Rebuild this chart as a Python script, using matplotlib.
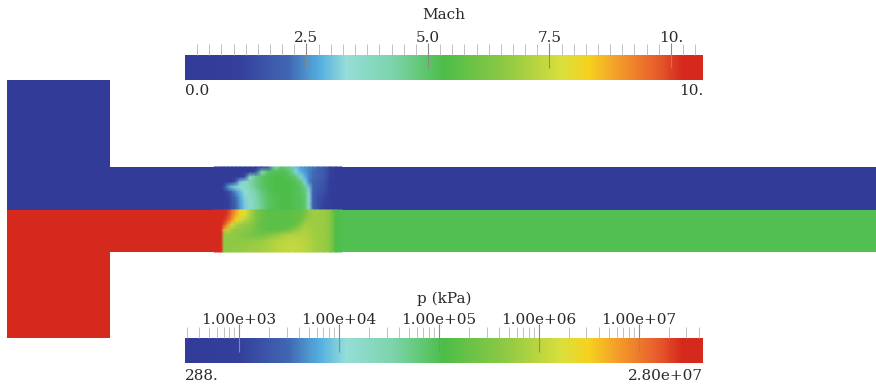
import numpy as np
import matplotlib
matplotlib.use('Agg')
import matplotlib.pyplot as plt
from matplotlib.colors import LinearSegmentedColormap, Normalize, LogNorm
from matplotlib.patches import Rectangle
import matplotlib.cm as cm

plt.rcParams['font.family'] = ['DejaVu Serif']
plt.rcParams['font.size'] = 11
txt_color = '#2a2a2a'

# colour map (rainbow as in the picture)
cmap_pos = [0.0, 0.1, 0.2, 0.26, 0.31, 0.4, 0.5, 0.62, 0.73, 0.78, 0.84, 0.91, 0.96, 1.0]
cmap_cols = ['#323b98', '#343e9b', '#4167b3', '#55b0e0', '#95ddd7', '#7cd4ac',
             '#4cbd48', '#90c944', '#dbdf3c', '#f5d21e', '#f29a2a', '#e8602c', '#d6291e', '#d6291e']
cmap = LinearSegmentedColormap.from_list('pv_rainbow', list(zip(cmap_pos, cmap_cols)))

# scalar ranges of the two bars
mach_min, mach_max = 0.0, 10.66
p_min, p_max = 288.0, 4.4e7
mach_ticks = [2.5, 5.0, 7.5, 10.0]
mach_tick_labels = ['2.5', '5.0', '7.5', '10.']
p_ticks = [1e3, 1e4, 1e5, 1e6, 1e7]
p_tick_labels = ['1.00e+03', '1.00e+04', '1.00e+05', '1.00e+06', '1.00e+07']

# uniform states
mach_still = 0.0       # upper half, driver block + quiescent channel
p_driver = 2.8e7       # lower half, driver block
p_ahead = 1.0e5        # lower half, channel ahead of the blast

# blast region samples
blast_x = [214, 221, 224, 228, 232, 236, 240, 245, 250, 256, 262, 268, 275,
           282, 289, 296, 301, 305, 309, 313, 318, 324, 330, 336, 342]
mach_y = [167, 172, 177, 182, 187, 192, 198, 204, 210]
mach_vals = [
    [0, 0, 0, 0, 0, 0, 0, 0, 0, 0, 0.3, 1.5, 4.2, 5.0, 4.6, 3.0, 2.6, 2.5, 2.4, 2.3, 2.1, 1.8, 1.2, 0.4, 0],
    [0, 0, 0, 0, 0, 0, 0, 0, 0.2, 1.5, 4.0, 5.0, 5.2, 5.2, 5.0, 3.2, 2.8, 2.6, 2.4, 2.2, 2.0, 1.8, 1.2, 0.4, 0],
    [0, 0, 0, 0, 0, 0, 0.3, 1.5, 3.6, 4.6, 5.0, 5.2, 5.3, 5.3, 5.2, 4.8, 3.2, 2.8, 2.4, 2.2, 2.0, 1.8, 1.2, 0.4, 0],
    [0, 0, 0, 0, 0.5, 2.0, 3.0, 3.6, 4.2, 4.7, 5.0, 5.2, 5.3, 5.3, 5.3, 5.1, 4.8, 3.2, 2.4, 2.0, 1.9, 1.7, 1.1, 0.3, 0],
    [0, 0, 1.5, 2.6, 3.0, 3.2, 3.4, 3.7, 4.1, 4.6, 5.0, 5.2, 5.3, 5.3, 5.3, 5.2, 5.0, 4.6, 3.0, 2.0, 1.8, 1.6, 1.0, 0.3, 0],
    [0, 0, 0.8, 1.4, 2.0, 2.5, 2.9, 3.3, 3.8, 4.3, 4.8, 5.1, 5.3, 5.3, 5.3, 5.2, 5.0, 4.8, 3.2, 2.0, 1.7, 1.5, 0.9, 0.2, 0],
    [0, 0, 0.6, 1.1, 1.7, 2.2, 2.7, 3.2, 3.7, 4.2, 4.7, 5.0, 5.2, 5.3, 5.3, 5.2, 5.1, 4.9, 3.5, 2.0, 1.6, 1.3, 0.8, 0.2, 0],
    [0, 0, 0.6, 1.0, 1.6, 2.1, 2.6, 3.1, 3.6, 4.1, 4.6, 5.0, 5.2, 5.3, 5.3, 5.2, 5.1, 4.9, 3.6, 2.0, 1.5, 1.2, 0.7, 0.2, 0],
    [0, 0, 0.7, 1.1, 1.6, 2.1, 2.6, 3.1, 3.6, 4.1, 4.6, 5.0, 5.2, 5.3, 5.3, 5.2, 5.1, 4.9, 3.6, 2.0, 1.5, 1.1, 0.6, 0.1, 0],
]
p_y = [210, 215, 220, 225, 230, 235, 241, 246, 252]
p_vals = [
    [2.8e7, 2.8e7, 2.8e7, 2.2e7, 1.2e7, 6e6, 3e6, 1.8e6, 8e5, 3e5, 2e5, 1.6e5, 1.5e5, 1.5e5, 1.6e5, 1.8e5, 2e5, 2.5e5, 5e5, 6e5, 6e5, 5.5e5, 4e5, 1.2e5, 1e5],
    [2.8e7, 2.8e7, 2.7e7, 2e7, 1e7, 5e6, 2.8e6, 1.8e6, 8e5, 3e5, 2e5, 1.6e5, 1.5e5, 1.5e5, 1.6e5, 1.8e5, 2e5, 2.8e5, 5e5, 6e5, 6e5, 5.5e5, 4e5, 1.2e5, 1e5],
    [2.8e7, 2.8e7, 2.5e7, 1.6e7, 7e6, 3e6, 1.5e6, 1e6, 6e5, 3e5, 2e5, 1.6e5, 1.5e5, 1.5e5, 1.6e5, 1.8e5, 2.2e5, 4e5, 6e5, 6e5, 6e5, 5.5e5, 4e5, 1.2e5, 1e5],
    [2.8e7, 2.8e7, 1.8e7, 6e6, 1.5e6, 8e5, 6e5, 5e5, 4e5, 2.5e5, 1.8e5, 1.6e5, 1.5e5, 1.5e5, 1.7e5, 2e5, 4e5, 6.5e5, 6.5e5, 6e5, 6e5, 5.5e5, 4e5, 1.2e5, 1e5],
    [2.8e7, 2.8e7, 5e6, 1e6, 6e5, 5e5, 4.5e5, 4e5, 3.5e5, 2.5e5, 1.8e5, 1.6e5, 1.6e5, 1.8e5, 2.5e5, 5e5, 7e5, 7.5e5, 7e5, 6.5e5, 6e5, 5.5e5, 4e5, 1.2e5, 1e5],
    [2.8e7, 2.8e7, 5e5, 5e5, 4.5e5, 4.5e5, 4e5, 3.5e5, 3e5, 2.5e5, 2.5e5, 3e5, 4.5e5, 6.5e5, 8e5, 8.5e5, 8.5e5, 8e5, 7.5e5, 6.5e5, 6e5, 5.5e5, 4e5, 1.2e5, 1e5],
    [2.8e7, 2.8e7, 4.5e5, 4.5e5, 4.5e5, 4.5e5, 4.5e5, 4.5e5, 4.5e5, 5e5, 5.5e5, 7e5, 8.5e5, 1e6, 1.1e6, 1.1e6, 1.05e6, 9.5e5, 8.5e5, 7e5, 6e5, 5.5e5, 4e5, 1.2e5, 1e5],
    [2.8e7, 2.8e7, 4.5e5, 4.5e5, 4.5e5, 5e5, 5e5, 5e5, 5.5e5, 6e5, 6.5e5, 7.5e5, 9e5, 1.05e6, 1.15e6, 1.15e6, 1.1e6, 1e6, 8.5e5, 7e5, 6e5, 5.5e5, 4e5, 1.2e5, 1e5],
    [2.8e7, 2.8e7, 4.5e5, 4.5e5, 5e5, 5e5, 5e5, 5.5e5, 6e5, 6.5e5, 7e5, 8e5, 9e5, 1.05e6, 1.15e6, 1.15e6, 1.1e6, 1e6, 8.5e5, 7e5, 6e5, 5.5e5, 4e5, 1.2e5, 1e5],
]

# geometry (pixel frame of the picture)
W, H = 876, 388
block = (7, 80, 110, 338)       # x0, y0, x1, y1
chan = (110, 167, 876, 252)
mid_y = 210

mnorm = Normalize(mach_min, mach_max)
pnorm = LogNorm(p_min, p_max)

fig = plt.figure(figsize=(W / 100, H / 100), dpi=100)
ax = fig.add_axes([0, 0, 1, 1])
ax.set_xlim(0, W)
ax.set_ylim(H, 0)
ax.axis('off')

c_still = cmap(mnorm(mach_still))
c_driver = cmap(pnorm(p_driver))
c_ahead = cmap(pnorm(p_ahead))
# upper half: Mach
ax.add_patch(Rectangle((block[0], block[1]), block[2] - block[0], mid_y - block[1], color=c_still, lw=0))
ax.add_patch(Rectangle((block[2] - 1, chan[1]), chan[2] - block[2] + 1, mid_y - chan[1], color=c_still, lw=0))
# lower half: pressure
ax.add_patch(Rectangle((block[0], mid_y), block[2] - block[0], block[3] - mid_y, color=c_driver, lw=0))
ax.add_patch(Rectangle((block[2] - 1, mid_y), 230 - block[2], chan[3] - mid_y, color=c_driver, lw=0))
ax.add_patch(Rectangle((229, mid_y), chan[2] - 229, chan[3] - mid_y, color=c_ahead, lw=0))

ax.pcolormesh(blast_x, mach_y, np.array(mach_vals), cmap=cmap, norm=mnorm,
              shading='gouraud', antialiased=False)
ax.pcolormesh(blast_x, p_y, np.array(p_vals), cmap=cmap, norm=pnorm,
              shading='gouraud', antialiased=False)


def style_bar(cb, major_len, minor_len):
    cb.outline.set_visible(False)
    cb.ax.xaxis.set_ticks_position('top')
    cb.ax.tick_params(axis='x', which='major', direction='inout', length=major_len,
                      width=0.8, color='#8a8a8a', pad=-2, labelcolor=txt_color, labelsize=11)
    cb.ax.tick_params(axis='x', which='minor', direction='out', length=minor_len,
                      width=0.6, color='#b5b5b5')


# Mach bar
cax1 = fig.add_axes([185 / W, 1 - 80 / H, 518 / W, 25 / H])
cb1 = fig.colorbar(cm.ScalarMappable(norm=mnorm, cmap=cmap), cax=cax1, orientation='horizontal')
cb1.set_ticks(mach_ticks, labels=mach_tick_labels)
cb1.set_ticks(np.arange(0.25, mach_max, 0.25), minor=True)
style_bar(cb1, 18, 8)
ax.text(444, 15, 'Mach', ha='center', va='center', color=txt_color, fontsize=11)
ax.text(185, 91, '0.0', ha='left', va='center', color=txt_color, fontsize=11)
ax.text(703, 91, '10.', ha='right', va='center', color=txt_color, fontsize=11)

# pressure bar
cax2 = fig.add_axes([185 / W, 1 - 363 / H, 518 / W, 25 / H])
cb2 = fig.colorbar(cm.ScalarMappable(norm=pnorm, cmap=cmap), cax=cax2, orientation='horizontal')
cb2.set_ticks(p_ticks, labels=p_tick_labels)
minor = [m * 10.0 ** e for e in range(2, 8) for m in range(2, 10)]
cb2.set_ticks([v for v in minor if p_min < v < p_max], minor=True)
style_bar(cb2, 20, 8)
ax.text(444, 299, 'p (kPa)', ha='center', va='center', color=txt_color, fontsize=11)
ax.text(185, 376, '288.', ha='left', va='center', color=txt_color, fontsize=11)
ax.text(703, 376, '2.80e+07', ha='right', va='center', color=txt_color, fontsize=11)

fig.savefig('out.png', dpi=100)
plt.close(fig)
